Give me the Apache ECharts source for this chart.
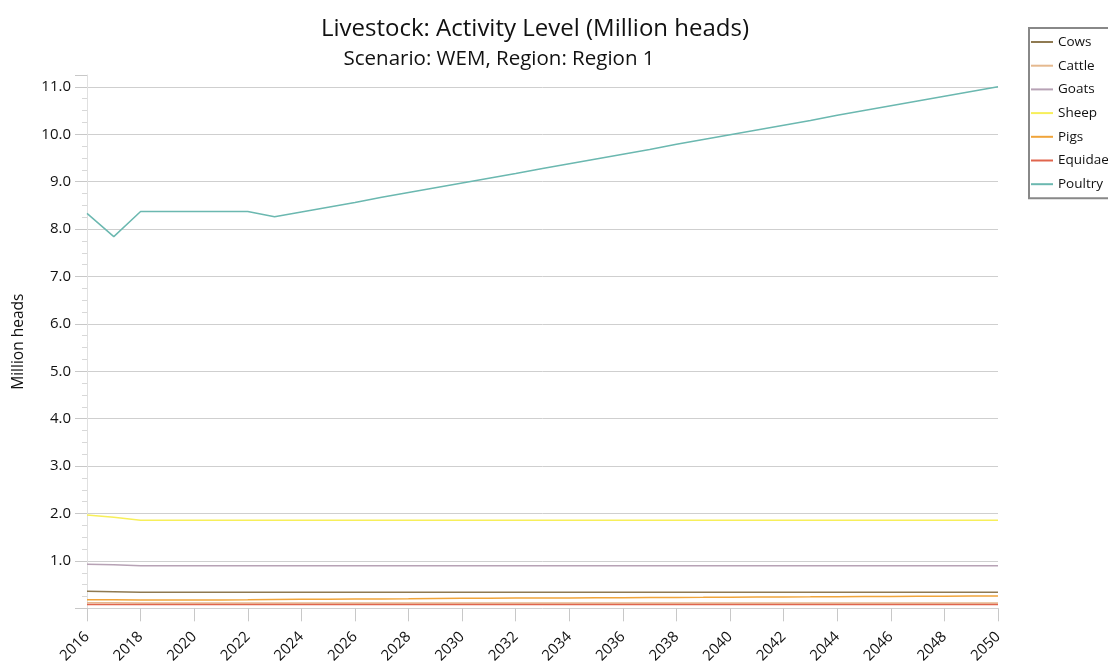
<!DOCTYPE html>
<html>
<head>
<meta charset="utf-8">
<script src="https://cdn.jsdelivr.net/npm/echarts@6/dist/echarts.min.js"></script>
<style>html,body{margin:0;padding:0;background:#fff}#c{width:1108px;height:666px}</style>
</head>
<body>
<div id="c"></div>
<script>
const years = ['2016','2017','2018','2019','2020','2021','2022','2023','2024','2025','2026','2027','2028','2029','2030','2031','2032','2033','2034','2035','2036','2037','2038','2039','2040','2041','2042','2043','2044','2045','2046','2047','2048','2049','2050'];
const cows    = [0.36,0.35,0.34,0.34,0.34,0.34,0.34,0.34,0.34,0.34,0.34,0.34,0.34,0.34,0.34,0.34,0.34,0.34,0.34,0.34,0.34,0.34,0.34,0.34,0.34,0.34,0.34,0.34,0.34,0.34,0.34,0.34,0.34,0.34,0.34];
const cattle  = [0.12,0.12,0.11,0.11,0.11,0.11,0.11,0.11,0.11,0.11,0.11,0.11,0.11,0.11,0.11,0.11,0.11,0.11,0.11,0.11,0.11,0.11,0.11,0.11,0.11,0.11,0.11,0.11,0.11,0.11,0.11,0.11,0.11,0.11,0.11];
const goats   = [0.93,0.92,0.90,0.90,0.90,0.90,0.90,0.90,0.90,0.90,0.90,0.90,0.90,0.90,0.90,0.90,0.90,0.90,0.90,0.90,0.90,0.90,0.90,0.90,0.90,0.90,0.90,0.90,0.90,0.90,0.90,0.90,0.90,0.90,0.90];
const sheep   = [1.97,1.92,1.86,1.86,1.86,1.86,1.86,1.86,1.86,1.86,1.86,1.86,1.86,1.86,1.86,1.86,1.86,1.86,1.86,1.86,1.86,1.86,1.86,1.86,1.86,1.86,1.86,1.86,1.86,1.86,1.86,1.86,1.86,1.86,1.86];
const pigs    = [0.18,0.18,0.175,0.175,0.175,0.178,0.18,0.185,0.19,0.192,0.195,0.198,0.20,0.205,0.21,0.212,0.215,0.218,0.22,0.222,0.225,0.228,0.23,0.232,0.235,0.238,0.24,0.242,0.245,0.248,0.25,0.252,0.255,0.258,0.26];
const equidae = [0.08,0.08,0.08,0.08,0.08,0.08,0.08,0.08,0.08,0.08,0.08,0.08,0.08,0.08,0.08,0.08,0.08,0.08,0.08,0.08,0.08,0.08,0.08,0.08,0.08,0.08,0.08,0.08,0.08,0.08,0.08,0.08,0.08,0.08,0.08];
const poultry = [8.33,7.84,8.37,8.37,8.37,8.37,8.37,8.26,8.36,8.46,8.56,8.67,8.77,8.87,8.97,9.07,9.17,9.28,9.38,9.48,9.58,9.68,9.79,9.89,9.99,10.09,10.19,10.29,10.40,10.50,10.60,10.70,10.80,10.90,11.00];

const seriesNames = ['Cows','Cattle','Goats','Sheep','Pigs','Equidae','Poultry'];
const seriesData = [cows, cattle, goats, sheep, pigs, equidae, poultry];
const colors = ['#8f7a52','#e5b98f','#b7a2b5','#f7ef5a','#f0a43a','#e0654d','#6bb8b0'];

const FONT = '"Open Sans", "Noto Sans", sans-serif';
const chart = echarts.init(document.getElementById('c'));
chart.setOption({
  animation: false,
  color: colors,
  title: [
    {text: 'Livestock: Activity Level (Million heads)', left: 530, top: 12, textAlign: 'center',
     textStyle: {fontFamily: FONT, fontSize: 24, fontWeight: 'normal', color: '#111'}},
    {text: 'Scenario: WEM, Region: Region 1', left: 494, top: 44, textAlign: 'center',
     textStyle: {fontFamily: FONT, fontSize: 20.5, fontWeight: 'normal', color: '#111'}}
  ],
  legend: {
    orient: 'vertical', left: 1029, top: 28,
    padding: [7, 20, 7, 2],
    borderColor: '#888', borderWidth: 2,
    itemWidth: 22, itemHeight: 14, itemGap: 9.7,
    icon: 'path://M0,6 L22,6 L22,8 L0,8 Z',
    textStyle: {fontFamily: FONT, fontSize: 13.5, color: '#111', lineHeight: 14},
    data: seriesNames
  },
  grid: {left: 87, right: 110, top: 75, bottom: 57.6, containLabel: false},
  xAxis: {
    type: 'category', data: years, boundaryGap: false,
    axisLine: {show: true, lineStyle: {color: '#d0d0d0'}},
    axisTick: {show: true, interval: 1, length: 13, lineStyle: {color: '#c8c8c8'}},
    axisLabel: {interval: 1, rotate: 45, margin: 26, fontFamily: FONT, fontSize: 15, color: '#111'},
    splitLine: {show: false}
  },
  yAxis: {
    type: 'value', min: 0, max: 11.25, interval: 1,
    name: 'Million heads', nameLocation: 'middle', nameGap: 60, nameRotate: 90,
    nameTextStyle: {fontFamily: FONT, fontSize: 15.5, color: '#111'},
    axisLine: {show: true, lineStyle: {color: '#e0e0e0'}},
    axisTick: {show: true, length: 12, lineStyle: {color: '#c8c8c8'}},
    minorTick: {show: true, splitNumber: 4, length: 5, lineStyle: {color: '#d8d8d8'}},
    axisLabel: {showMinLabel: false, showMaxLabel: false, margin: 16, fontFamily: FONT, fontSize: 15, color: '#111',
      formatter: v => v.toFixed(1)},
    splitLine: {show: true, showMinLine: false, showMaxLine: false, lineStyle: {color: '#cfcfcf', width: 1}}
  },
  series: seriesNames.map((n, i) => ({
    name: n, type: 'line', data: seriesData[i], symbol: 'none',
    lineStyle: {width: 1.5, color: colors[i]}, itemStyle: {color: colors[i]}
  }))
});
</script>
</body>
</html>
